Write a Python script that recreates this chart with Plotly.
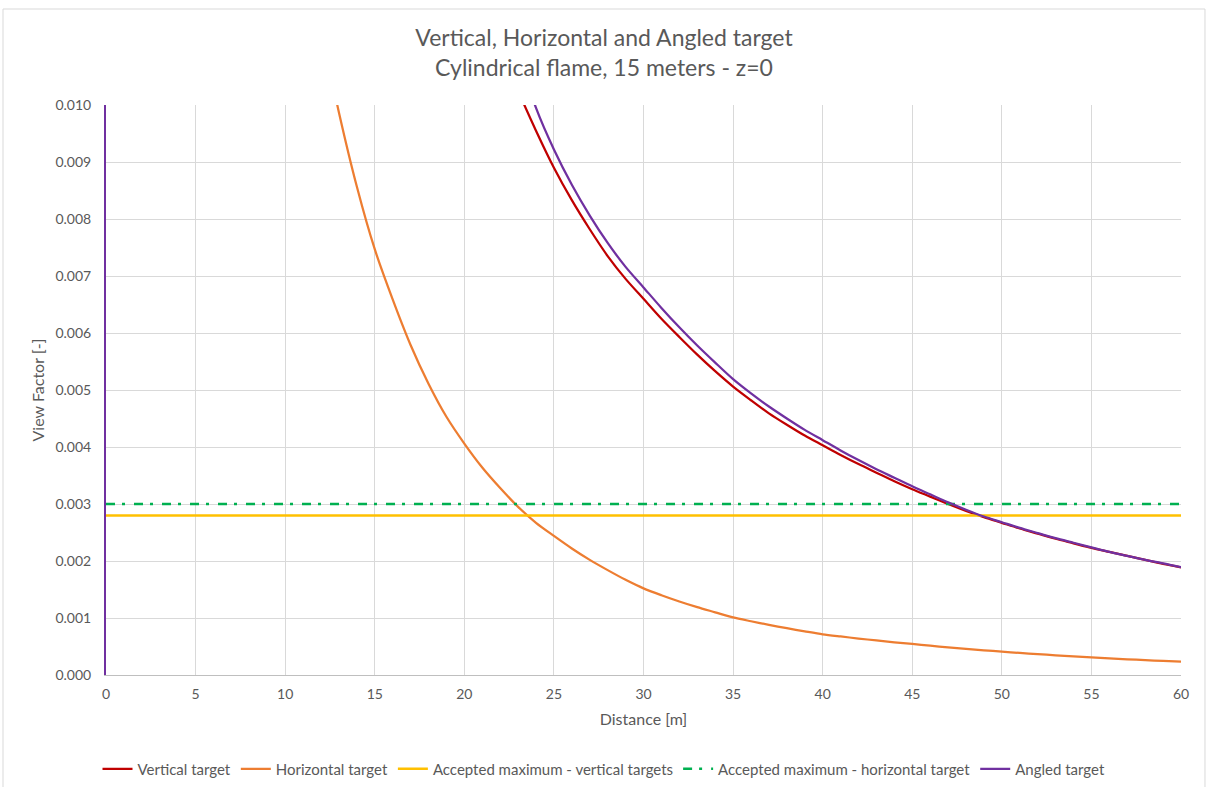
import plotly.graph_objects as go

# ---------------- data ----------------
vert_x = list(range(22, 61))
vert_y = [11.00, 10.25, 9.55, 8.90, 8.33, 7.82, 7.35, 6.95, 6.60, 6.25, 5.93, 5.62, 5.33, 5.06,
          4.82, 4.59, 4.39, 4.20, 4.03, 3.86, 3.70, 3.55, 3.40, 3.26, 3.13, 3.00, 2.88,
          2.77, 2.67, 2.57, 2.48, 2.39, 2.31, 2.23, 2.16, 2.09, 2.02, 1.95, 1.89]

horiz_x = list(range(12, 61))
horiz_y = [11.35, 9.87, 8.57, 7.47, 6.59, 5.79, 5.11, 4.53, 4.06, 3.64, 3.28, 2.95, 2.67, 2.44,
           2.22, 2.02, 1.84, 1.67, 1.52, 1.40, 1.29, 1.19, 1.10, 1.01, 0.943, 0.880, 0.821,
           0.766, 0.714, 0.676, 0.640, 0.606, 0.574, 0.544, 0.514, 0.486, 0.459, 0.434, 0.410,
           0.388, 0.366, 0.346, 0.327, 0.309, 0.292, 0.276, 0.261, 0.247, 0.233]

angled_x = list(range(23, 61))
angled_y = [10.90, 9.95, 9.22, 8.60, 8.06, 7.58, 7.16, 6.80, 6.44, 6.10, 5.78, 5.48,
            5.19, 4.94, 4.71, 4.50, 4.30, 4.12, 3.94, 3.77, 3.61, 3.46, 3.31, 3.17,
            3.03, 2.90, 2.78, 2.68, 2.58, 2.49, 2.40, 2.32, 2.24, 2.16, 2.09, 2.02, 1.96, 1.89]

limit_x = [0, 60]
accepted_vertical = 2.8    # x 1e-3
accepted_horizontal = 3.0  # x 1e-3

scale = 1e-3

x_ticks = list(range(0, 61, 5))
y_ticks = [i * 0.001 for i in range(0, 11)]

# ---------------- figure ----------------
font_family = "Lato, 'Open Sans', sans-serif"
txt = "#595959"

fig = go.Figure()
fig.add_trace(go.Scatter(x=vert_x, y=[v * scale for v in vert_y], mode="lines",
                         name="Vertical target",
                         line=dict(color="#C00000", width=2.25, shape="spline", smoothing=0.8)))
fig.add_trace(go.Scatter(x=horiz_x, y=[v * scale for v in horiz_y], mode="lines",
                         name="Horizontal target",
                         line=dict(color="#ED7D31", width=2.25, shape="spline", smoothing=0.8)))
fig.add_trace(go.Scatter(x=limit_x, y=[accepted_vertical * scale] * 2, mode="lines",
                         name="Accepted maximum - vertical targets",
                         line=dict(color="#FFC000", width=2.5)))
fig.add_trace(go.Scatter(x=limit_x, y=[accepted_horizontal * scale] * 2, mode="lines",
                         name="Accepted maximum - horizontal target",
                         line=dict(color="#00B050", width=2.5, dash="9px,7px,3px,9px")))
fig.add_trace(go.Scatter(x=angled_x, y=[v * scale for v in angled_y], mode="lines",
                         name="Angled target",
                         line=dict(color="#7030A0", width=2.25, shape="spline", smoothing=0.8)))

fig.update_layout(
    width=1208, height=787,
    margin=dict(l=106, r=27, t=105, b=112, autoexpand=False),
    paper_bgcolor="white", plot_bgcolor="white",
    font=dict(family=font_family, color=txt, size=13),
    title=dict(text="Vertical, Horizontal and Angled target<br>Cylindrical flame, 15 meters - z=0",
               x=0.5, xanchor="center", y=0.941, yanchor="middle",
               font=dict(size=23, color=txt, family=font_family)),
    showlegend=True,
    legend=dict(orientation="h", x=0.5, xanchor="center", xref="container",
                y=1 - 769 / 787, yanchor="middle", yref="container",
                font=dict(size=15, color=txt), traceorder="normal"),
)
fig.update_xaxes(range=[0, 60], tickvals=x_ticks, ticktext=[str(t) for t in x_ticks],
                 showgrid=True, gridcolor="#d9d9d9", gridwidth=1, automargin=False,
                 showline=True, linecolor="#bfbfbf", linewidth=1, zeroline=False,
                 ticks="", tickfont=dict(size=14, color=txt), ticklabelstandoff=6,
                 title=dict(text="Distance [m]", font=dict(size=16, color=txt), standoff=13))
fig.update_yaxes(range=[0, 0.010], tickvals=y_ticks, ticktext=[f"{t:.3f}" for t in y_ticks],
                 showgrid=True, gridcolor="#d9d9d9", gridwidth=1, automargin=False,
                 showline=True, linecolor="#7030A0", linewidth=2, zeroline=False, ticks="",
                 tickfont=dict(size=14, color=txt), ticklabelstandoff=10,
                 title=dict(text="View Factor [-]", font=dict(size=16, color=txt), standoff=7))

# chart frame
fig.add_shape(type="rect", xref="paper", yref="paper",
              x0=-0.0958, x1=1.0223, y0=-0.3, y1=1.1684,
              line=dict(color="#d9d9d9", width=1), fillcolor="rgba(0,0,0,0)", layer="below")

fig.write_html("out.html")
